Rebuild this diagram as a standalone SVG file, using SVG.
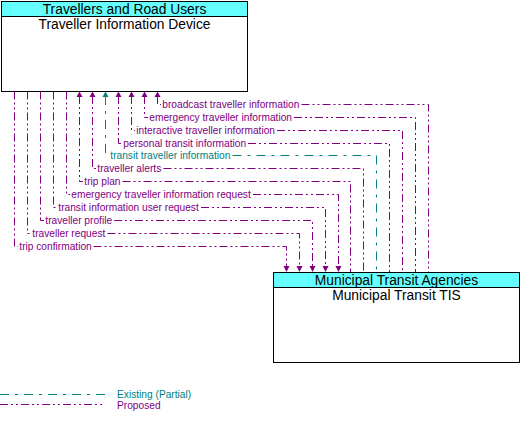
<svg xmlns="http://www.w3.org/2000/svg" width="529" height="424" viewBox="0 0 529 424">
<style>
.box{fill:#ffffff;stroke:#000000;stroke-width:1}
.hdr{fill:#66ffff;stroke:#000000;stroke-width:1}
.t1{font-family:"Liberation Sans",Arial,sans-serif;font-size:13.8px;fill:#000000;text-anchor:middle}
.lbl{font-family:"Liberation Sans",Arial,sans-serif;font-size:10.2px}
.p{fill:none;stroke:#800080;stroke-width:1;stroke-dasharray:8 3 2 3 2 3}
.e{fill:none;stroke:#008080;stroke-width:1;stroke-dasharray:9 6 3 6}
.pt{fill:#800080}
.et{fill:#008080}
.pa{fill:#800080;stroke:none}
.ea{fill:#008080;stroke:none}
</style>
<rect width="529" height="424" fill="#ffffff"/>
<g id="node-traveller-information-device">
<rect class="box" x="1.5" y="1.5" width="246" height="90"/>
<rect class="hdr" x="1.5" y="1.5" width="246" height="15"/>
<text class="t1" x="124.5" y="13.5">Travellers and Road Users</text>
<text class="t1" x="124.5" y="28.5">Traveller Information Device</text>
</g>
<g id="node-municipal-transit-tis">
<rect class="box" x="273.5" y="272.5" width="246" height="90"/>
<rect class="hdr" x="273.5" y="272.5" width="246" height="15"/>
<text class="t1" x="396.5" y="284.5">Municipal Transit Agencies</text>
<text class="t1" x="396.5" y="299.5">Municipal Transit TIS</text>
</g>
<g id="connectors">
<g id="c-broadcast">
<path class="p" d="M157.5,96 V104.5 H161"/>
<path class="p" d="M301.5,104.5 H428.5 V272"/>
<polygon class="pa" points="154.5,97 160.5,97 157.5,91.5"/>
<text class="lbl pt" x="162.3" y="108">broadcast traveller information</text>
</g>
<g id="c-emergency-info">
<path class="p" d="M144.5,96 V117.5 H148"/>
<path class="p" d="M294,117.5 H415.5 V272"/>
<polygon class="pa" points="141.5,97 147.5,97 144.5,91.5"/>
<text class="lbl pt" x="149.3" y="121">emergency traveller information</text>
</g>
<g id="c-interactive">
<path class="p" d="M131.5,96 V130.5 H135"/>
<path class="p" d="M277,130.5 H402.5 V272"/>
<polygon class="pa" points="128.5,97 134.5,97 131.5,91.5"/>
<text class="lbl pt" x="136.3" y="134">interactive traveller information</text>
</g>
<g id="c-personal">
<path class="p" d="M118.5,96 V143.5 H122"/>
<path class="p" d="M248,143.5 H389.5 V272"/>
<polygon class="pa" points="115.5,97 121.5,97 118.5,91.5"/>
<text class="lbl pt" x="123.3" y="147">personal transit information</text>
</g>
<g id="c-transit-traveller-info">
<path class="e" d="M105.5,96 V155.5 H109"/>
<path class="e" d="M232.5,155.5 H376.5 V272"/>
<polygon class="ea" points="102.5,97 108.5,97 105.5,91.5"/>
<text class="lbl et" x="110.3" y="159">transit traveller information</text>
</g>
<g id="c-alerts">
<path class="p" d="M92.5,96 V168.5 H96"/>
<path class="p" d="M163.5,168.5 H363.5 V272"/>
<polygon class="pa" points="89.5,97 95.5,97 92.5,91.5"/>
<text class="lbl pt" x="97.3" y="172">traveller alerts</text>
</g>
<g id="c-trip-plan">
<path class="p" d="M79.5,96 V181.5 H83"/>
<path class="p" d="M122.5,181.5 H350.5 V272"/>
<polygon class="pa" points="76.5,97 82.5,97 79.5,91.5"/>
<text class="lbl pt" x="84.3" y="185">trip plan</text>
</g>
<g id="c-emergency-request">
<path class="p" d="M66.5,91.5 V194.5 H70"/>
<path class="p" d="M253,194.5 H338.5 V267"/>
<polygon class="pa" points="335.5,266 341.5,266 338.5,272"/>
<text class="lbl pt" x="71.3" y="198">emergency traveller information request</text>
</g>
<g id="c-user-request">
<path class="p" d="M53.5,91.5 V207.5 H57"/>
<path class="p" d="M201,207.5 H325.5 V267"/>
<polygon class="pa" points="322.5,266 328.5,266 325.5,272"/>
<text class="lbl pt" x="58.3" y="211">transit information user request</text>
</g>
<g id="c-profile">
<path class="p" d="M40.5,91.5 V220.5 H44"/>
<path class="p" d="M114,220.5 H312.5 V267"/>
<polygon class="pa" points="309.5,266 315.5,266 312.5,272"/>
<text class="lbl pt" x="45.3" y="224">traveller profile</text>
</g>
<g id="c-request">
<path class="p" d="M27.5,91.5 V233.5 H31"/>
<path class="p" d="M107.5,233.5 H299.5 V267"/>
<polygon class="pa" points="296.5,266 302.5,266 299.5,272"/>
<text class="lbl pt" x="32.3" y="237">traveller request</text>
</g>
<g id="c-confirmation">
<path class="p" d="M14.5,91.5 V246.5 H18"/>
<path class="p" d="M93.5,246.5 H286.5 V267"/>
<polygon class="pa" points="283.5,266 289.5,266 286.5,272"/>
<text class="lbl pt" x="19.3" y="250">trip confirmation</text>
</g>
</g>
<g id="legend">
<path class="e" d="M0,394.5 H105"/>
<path class="p" d="M0,404.5 H105"/>
<text class="lbl et" x="117" y="398">Existing (Partial)</text>
<text class="lbl pt" x="117" y="409">Proposed</text>
</g>
</svg>
